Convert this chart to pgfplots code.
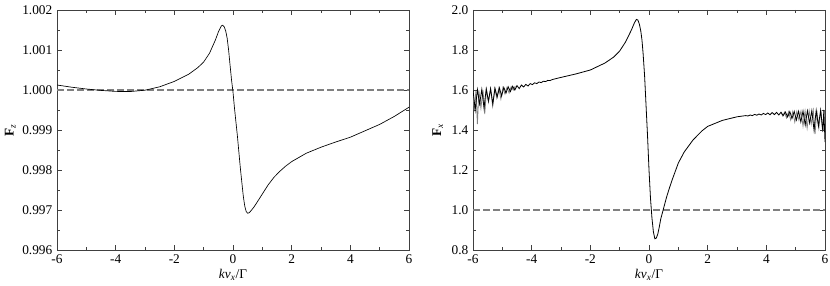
\documentclass[border=0pt]{standalone}
\usepackage{fontspec}
\setmainfont{Liberation Serif}
\usepackage{pgfplots}
\pgfplotsset{compat=1.18}

\pgfplotsset{
  panel/.style={
    scale only axis,
    width=264pt, height=180pt,
    xmin=-6, xmax=6,
    xtick={-6,-4,...,6},
    minor x tick num=1,
    minor y tick num=1,
    tick align=inside,
    major tick length=4pt,
    minor tick length=2pt,
    axis line style={black!75, line width=0.6pt},
    every tick/.style={black!75, line width=0.5pt},
    tick label style={font=\fontsize{10}{12}\selectfont},
    label style={font=\fontsize{10}{12}\selectfont},
    /pgf/number format/assume math mode=true,
    xticklabel style={/pgf/number format/.cd, fixed, precision=0},
    xlabel={\textit{kv}\textsubscript{\textit{x}}/Γ},
    xlabel style={yshift=3pt},
    clip=true,
  },
  ref/.style={black!50, line width=0.8pt, dash pattern=on 5pt off 2.5pt},
  curve/.style={black, line width=0.5pt},
}

\begin{document}
\begin{tikzpicture}
\useasboundingbox (-42.75pt,-26.25pt) rectangle (579.75pt,187.5pt);

% ---- left panel: F_z ----
\begin{axis}[panel, at={(0pt,0pt)}, anchor=south west,
    ymin=0.996, ymax=1.002,
    ytick={0.996,0.997,...,1.0025},
    scaled y ticks=false,
    yticklabel style={/pgf/number format/.cd, fixed, fixed zerofill, precision=3},
    ylabel={\textbf{F}\textsubscript{\textit{z}}},
    ylabel style={at={(axis description cs:-0.133,0.5)}, anchor=center},
  ]
  \addplot[ref] coordinates {(-6,1.0) (6,1.0)};
  \addplot[curve] coordinates {
    (-6.0,1.000125) (-5.5,1.000070) (-5.0,1.000025) (-4.5,0.999990)
    (-4.0,0.999965) (-3.5,0.999962) (-3.0,0.999995) (-2.5,1.000080)
    (-2.0,1.000215) (-1.5,1.000400) (-1.2,1.000560) (-1.0,1.000700)
    (-0.8,1.000920) (-0.6,1.001250) (-0.5,1.001450) (-0.4,1.001600)
    (-0.35,1.001620) (-0.3,1.001580) (-0.25,1.001480) (-0.2,1.001300)
    (-0.15,1.001000) (-0.1,1.000620) (-0.05,1.000250) (0.0,0.999950)
    (0.05,0.999550) (0.1,0.999200) (0.15,0.998850) (0.2,0.998450)
    (0.25,0.998050) (0.3,0.997700) (0.35,0.997350) (0.4,0.997100)
    (0.45,0.996960) (0.5,0.996920) (0.55,0.996930) (0.6,0.996970)
    (0.7,0.997060) (0.8,0.997170) (1.0,0.997400) (1.2,0.997630)
    (1.4,0.997820) (1.6,0.997970) (1.8,0.998100) (2.0,0.998210)
    (2.5,0.998420) (3.0,0.998570) (3.5,0.998700) (4.0,0.998820)
    (4.5,0.998980) (5.0,0.999140) (5.5,0.999340) (6.0,0.999570)
  };
\end{axis}

% ---- right panel: F_x ----
\begin{axis}[panel, at={(312pt,0pt)}, anchor=south west,
    ymin=0.8, ymax=2.0,
    ytick={0.8,1.0,...,2.01},
    yticklabel style={/pgf/number format/.cd, fixed, fixed zerofill, precision=1},
    ylabel={\textbf{F}\textsubscript{\textit{x}}},
    ylabel style={at={(axis description cs:-0.10,0.5)}, anchor=center},
  ]
  \addplot[ref] coordinates {(-6,1.0) (6,1.0)};
  % grey oscillating branch
  \addplot[black!50, line width=0.6pt] coordinates {
    (-6.000,1.590) (-5.960,1.500) (-5.900,1.595) (-5.850,1.430)
    (-5.800,1.598) (-5.730,1.510) (-5.660,1.600) (-5.600,1.480)
    (-5.540,1.603) (-5.470,1.540) (-5.400,1.605) (-5.330,1.520)
    (-5.260,1.607) (-5.190,1.560) (-5.120,1.609) (-5.050,1.555)
    (-4.980,1.612) (-4.910,1.580) (-4.840,1.614) (-4.770,1.585)
    (-4.700,1.617) (-4.630,1.600) (-4.560,1.620)
  };
  \addplot[black!50, line width=0.6pt] coordinates {
    (4.500,1.487) (4.560,1.470) (4.620,1.489) (4.690,1.460)
    (4.760,1.491) (4.830,1.450) (4.900,1.492) (4.970,1.440)
    (5.040,1.493) (5.110,1.450) (5.180,1.494) (5.250,1.420)
    (5.320,1.495) (5.390,1.410) (5.460,1.496) (5.530,1.430)
    (5.600,1.497) (5.660,1.380) (5.720,1.498) (5.790,1.410)
    (5.860,1.499) (5.920,1.390) (5.980,1.499)
  };
  % black main curve
  \addplot[curve, line width=0.6pt] coordinates {
    (-6.000,1.600) (-5.925,1.500) (-5.850,1.602) (-5.775,1.530)
    (-5.700,1.603) (-5.625,1.510) (-5.550,1.605) (-5.475,1.545)
    (-5.400,1.607) (-5.325,1.530) (-5.250,1.609) (-5.175,1.565)
    (-5.100,1.611) (-5.025,1.570) (-4.950,1.613) (-4.875,1.585)
    (-4.800,1.616) (-4.725,1.592) (-4.650,1.619) (-4.575,1.600)
    (-4.500,1.622) (-4.425,1.607) (-4.350,1.625) (-4.275,1.615)
    (-4.200,1.628) (-4.125,1.620) (-4.050,1.632) (-3.975,1.627)
    (-3.900,1.636) (-3.825,1.632) (-3.750,1.640) (-3.675,1.637)
    (-3.600,1.644) (-3.525,1.642) (-3.450,1.648) (-3.375,1.647)
    (-3.300,1.652)
    (-3.0,1.663) (-2.5,1.680) (-2.0,1.700) (-1.5,1.735) (-1.2,1.765)
    (-1.0,1.795) (-0.8,1.840) (-0.6,1.900) (-0.5,1.935) (-0.43,1.953)
    (-0.38,1.950) (-0.33,1.930) (-0.28,1.895) (-0.24,1.850) (-0.2,1.780)
    (-0.15,1.670) (-0.1,1.520) (-0.05,1.370) (0.0,1.200) (0.05,1.060)
    (0.1,0.960) (0.15,0.890) (0.2,0.856) (0.25,0.860) (0.3,0.880)
    (0.35,0.915) (0.4,0.955) (0.5,1.010) (0.6,1.065) (0.7,1.112)
    (0.8,1.155) (1.0,1.235) (1.2,1.290) (1.5,1.350) (1.8,1.395)
    (2.0,1.418) (2.5,1.448) (3.0,1.466)
    (3.300,1.472) (3.375,1.470) (3.450,1.475) (3.525,1.472)
    (3.600,1.478) (3.675,1.474) (3.750,1.480) (3.825,1.475)
    (3.900,1.483) (3.975,1.477) (4.050,1.485) (4.125,1.476)
    (4.200,1.487) (4.275,1.477) (4.350,1.488) (4.425,1.475)
    (4.500,1.489) (4.575,1.472) (4.650,1.490) (4.725,1.465)
    (4.800,1.492) (4.875,1.458) (4.950,1.493) (5.025,1.450)
    (5.100,1.494) (5.175,1.440) (5.250,1.495) (5.325,1.425)
    (5.400,1.496) (5.475,1.435) (5.550,1.497) (5.625,1.400)
    (5.700,1.498) (5.775,1.420) (5.850,1.499) (5.925,1.395)
    (5.960,1.500) (6.000,1.340)
  };
\end{axis}
\end{tikzpicture}
\end{document}
